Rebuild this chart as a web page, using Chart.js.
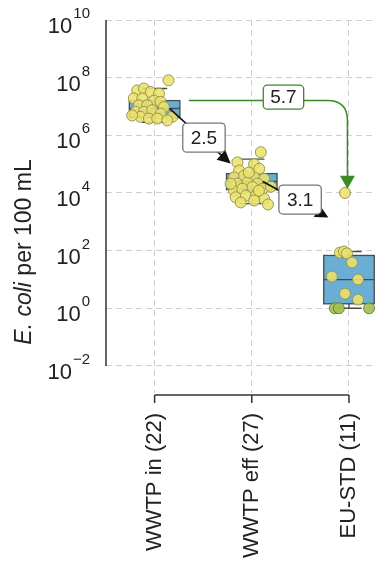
<!DOCTYPE html>
<html>
<head>
<meta charset="utf-8">
<script src="https://cdn.jsdelivr.net/npm/chart.js@4"></script>
<style>
  html, body { margin: 0; padding: 0; background: #fff; }
</style>
</head>
<body>
<canvas id="myChart" width="379" height="562"></canvas>
<script>
// categories and counts
const categories = ["WWTP in (22)", "WWTP eff (27)", "EU-STD (11)"];

// E. coli per 100 mL
const inflowValues = [8.1e7, 3.6e7, 4.2e7, 3.2e7, 2.8e7, 1.9e7, 1.9e7, 1.6e7, 1.45e7, 1.1e7, 1.1e7,
  9.5e6, 6.5e6, 6.5e6, 7.4e6, 5.6e6, 4.4e6, 3.8e6, 3.8e6, 4.4e6, 4.9e6, 3.3e6];
const inflowJitter = [0.143, -0.179, -0.110, -0.041, 0.045, -0.214, -0.127, -0.007, 0.062, -0.162, -0.076,
  0.096, -0.197, -0.110, -0.024, 0.062, -0.145, -0.059, 0.027, 0.183, -0.231, 0.130];

const effluentValues = [2.6e5, 1.15e5, 1.0e5, 6.9e4, 6.0e4, 3.5e4, 4.0e4, 3.5e4, 3.1e4, 2.1e4, 2.3e4,
  2.1e4, 1.2e4, 1.4e4, 1.6e4, 1.4e4, 1.65e4, 7.1e3, 8.1e3, 8.1e3, 6.3e3, 5.5e3, 4.0e3, 5.1e4, 2.1e4,
  4.7e3, 1.2e4];
const effluentJitter = [0.093, -0.148, 0.024, 0.076, -0.131, -0.183, -0.080, 0.024, 0.128, -0.148, -0.045,
  0.059, -0.183, -0.097, 0.007, 0.111, 0.197, -0.166, -0.062, 0.041, 0.128, 0.024, 0.166, -0.031, -0.218,
  -0.114, 0.073];

const standardValues = [85, 93, 80, 39, 12.6, 10, 3.2, 2.0, 1, 1, 1, 1.0e4];
const standardJitter = [-0.093, -0.052, -0.021, 0.031, -0.176, 0.093, -0.041, 0.093, -0.145, -0.104, 0.207, -0.041];

// box plot statistics per category
const whiskerLow = [2.8e6, 4.3e3, 1];
const quartile1 = [4.1e6, 1.3e4, 1.43];
const medians = [8.5e6, 2.5e4, 9.8];
const quartile3 = [1.6e7, 4.7e4, 68];
const whiskerHigh = [4.2e7, 1.5e5, 93];

// fold reductions
const foldLabels = ["2.5", "3.1", "5.7"];
const foldFrom = [{ x: 0.155, y: 8.4e6 }, { x: 1.114, y: 2.5e4 }, { x: 0.352, y: 1.6e7 }];
const foldTo = [{ x: 0.782, y: 1.05e5 }, { x: 1.788, y: 1.4e3 }, { x: 1.984, y: 1.4e4 }];
const foldText = [{ x: 0.508, y: 8.3e5 }, { x: 1.497, y: 5.9e3 }, { x: 1.326, y: 2.1e7 }];

// y tick exponents
const yTickExponents = [-2, 0, 2, 4, 6, 8, 10];

const FONT = "'Liberation Sans', Arial, sans-serif";
const boxWidth = 0.52;

const toPoints = (vals, jit, i) => vals.map((v, k) => ({ x: i + jit[k], y: v }));

const pointFill = (c) => (c.raw && c.raw.y <= 1 && c.datasetIndex === 2) ? "rgba(165,192,82,0.92)" : "rgba(236,226,108,0.88)";
const pointEdge = (c) => (c.raw && c.raw.y <= 1 && c.datasetIndex === 2) ? "rgba(95,135,45,0.95)" : "rgba(150,145,80,0.95)";

const arrowHead = (ctx, x0, y0, x1, y1, len, half, color) => {
  const a = Math.atan2(y1 - y0, x1 - x0);
  ctx.fillStyle = color;
  ctx.beginPath();
  ctx.moveTo(x1, y1);
  ctx.lineTo(x1 - len * Math.cos(a) + half * Math.sin(a), y1 - len * Math.sin(a) - half * Math.cos(a));
  ctx.lineTo(x1 - len * Math.cos(a) - half * Math.sin(a), y1 - len * Math.sin(a) + half * Math.cos(a));
  ctx.closePath();
  ctx.fill();
};

const labelBox = (ctx, cx, cy, text, edge, padX, h) => {
  ctx.font = "19px " + FONT;
  const w = ctx.measureText(text).width + 2 * padX;
  const x0 = cx - w / 2, y0 = cy - h / 2;
  ctx.beginPath();
  ctx.roundRect(x0, y0, w, h, 4);
  ctx.fillStyle = "#fff";
  ctx.fill();
  ctx.lineWidth = 1.3;
  ctx.strokeStyle = edge;
  ctx.stroke();
  ctx.fillStyle = "#222";
  ctx.textAlign = "center";
  ctx.textBaseline = "middle";
  ctx.fillText(text, cx, cy + 1);
};

const boxPlugin = {
  id: "boxes",
  beforeDatasetsDraw(chart) {
    const { ctx, scales: { x, y } } = chart;
    ctx.save();
    categories.forEach((c, i) => {
      const cx = x.getPixelForValue(i);
      const hw = x.getPixelForValue(i + boxWidth / 2) - cx;
      const y1 = y.getPixelForValue(quartile1[i]);
      const y3 = y.getPixelForValue(quartile3[i]);
      const ym = y.getPixelForValue(medians[i]);
      const ylo = y.getPixelForValue(whiskerLow[i]);
      const yhi = y.getPixelForValue(whiskerHigh[i]);
      ctx.strokeStyle = "#4a4a4a";
      ctx.lineWidth = 1.3;
      ctx.beginPath();
      ctx.moveTo(cx, y3); ctx.lineTo(cx, yhi);
      ctx.moveTo(cx, y1); ctx.lineTo(cx, ylo);
      ctx.moveTo(cx - hw / 2, yhi); ctx.lineTo(cx + hw / 2, yhi);
      ctx.moveTo(cx - hw / 2, ylo); ctx.lineTo(cx + hw / 2, ylo);
      ctx.stroke();
      ctx.fillStyle = "#6aaed6";
      ctx.fillRect(cx - hw, y3, 2 * hw, y1 - y3);
      ctx.strokeRect(cx - hw, y3, 2 * hw, y1 - y3);
      ctx.beginPath();
      ctx.moveTo(cx - hw, ym); ctx.lineTo(cx + hw, ym);
      ctx.stroke();
    });
    ctx.restore();
  },
  afterDatasetsDraw(chart) {
    const { ctx, scales: { x, y } } = chart;
    ctx.save();
    // straight black arrows
    for (let k = 0; k < 2; k++) {
      const x0 = x.getPixelForValue(foldFrom[k].x), y0 = y.getPixelForValue(foldFrom[k].y);
      const x1 = x.getPixelForValue(foldTo[k].x), y1 = y.getPixelForValue(foldTo[k].y);
      const d = Math.hypot(x1 - x0, y1 - y0);
      ctx.strokeStyle = "#111";
      ctx.lineWidth = 1.5;
      ctx.beginPath();
      ctx.moveTo(x0, y0);
      ctx.lineTo(x1 - 10 * (x1 - x0) / d, y1 - 10 * (y1 - y0) / d);
      ctx.stroke();
      arrowHead(ctx, x0, y0, x1, y1, 13, 6.5, "#111");
      labelBox(ctx, x.getPixelForValue(foldText[k].x), y.getPixelForValue(foldText[k].y), foldLabels[k], "#777", 8, 29);
    }
    // green elbow arrow
    const green = "#3b8a26";
    const gx0 = x.getPixelForValue(foldFrom[2].x), gy0 = y.getPixelForValue(foldFrom[2].y);
    const gx1 = x.getPixelForValue(foldTo[2].x), gy1 = y.getPixelForValue(foldTo[2].y);
    const r = 20;
    ctx.strokeStyle = green;
    ctx.lineWidth = 1.5;
    ctx.beginPath();
    ctx.moveTo(gx0, gy0);
    ctx.lineTo(gx1 - r, gy0);
    ctx.quadraticCurveTo(gx1, gy0, gx1, gy0 + r);
    ctx.lineTo(gx1, gy1 - 10);
    ctx.stroke();
    arrowHead(ctx, gx1, gy0, gx1, gy1, 13, 7.5, green);
    labelBox(ctx, x.getPixelForValue(foldText[2].x), y.getPixelForValue(foldText[2].y), foldLabels[2], green, 7, 24);
    ctx.restore();
  },
  afterDraw(chart) {
    const { ctx, chartArea, scales: { x, y } } = chart;
    ctx.save();
    // trimmed spines
    ctx.strokeStyle = "#333";
    ctx.lineWidth = 1.5;
    ctx.beginPath();
    ctx.moveTo(chartArea.left, y.getPixelForValue(10 ** yTickExponents[yTickExponents.length - 1]));
    ctx.lineTo(chartArea.left, y.getPixelForValue(10 ** yTickExponents[0]));
    const by = chartArea.bottom + 2;
    ctx.moveTo(x.getPixelForValue(0), by);
    ctx.lineTo(x.getPixelForValue(categories.length - 1), by);
    categories.forEach((c, i) => {
      ctx.moveTo(x.getPixelForValue(i), by);
      ctx.lineTo(x.getPixelForValue(i), by + 8);
    });
    ctx.stroke();
    // y tick labels as 10^n
    ctx.fillStyle = "#222";
    ctx.textAlign = "right";
    ctx.textBaseline = "alphabetic";
    yTickExponents.forEach(e => {
      const gy = y.getPixelForValue(10 ** e);
      const ex = (e < 0 ? "\u2212" : "") + Math.abs(e);
      ctx.font = "15px " + FONT;
      const ew = ctx.measureText(ex).width;
      ctx.fillText(ex, 90, gy - 2);
      ctx.font = "22px " + FONT;
      ctx.fillText("10", 89 - ew, gy + 13);
    });
    // y title with italic species name
    ctx.translate(31, 252);
    ctx.rotate(-Math.PI / 2);
    ctx.font = "italic 23px " + FONT;
    const a = "E. coli";
    const aw = ctx.measureText(a).width;
    ctx.font = "23px " + FONT;
    const b = " per 100 mL";
    const bw = ctx.measureText(b).width;
    ctx.textAlign = "left";
    ctx.font = "italic 23px " + FONT;
    ctx.fillText(a, -(aw + bw) / 2, 0);
    ctx.font = "23px " + FONT;
    ctx.fillText(b, -(aw + bw) / 2 + aw, 0);
    ctx.restore();
  }
};

const ctx = document.getElementById("myChart").getContext("2d");

new Chart(ctx, {
  type: "scatter",
  data: {
    datasets: [
      { label: categories[0], data: toPoints(inflowValues, inflowJitter, 0) },
      { label: categories[1], data: toPoints(effluentValues, effluentJitter, 1) },
      { label: categories[2], data: toPoints(standardValues, standardJitter, 2) },
    ].map(d => ({
      ...d,
      clip: false,
      pointRadius: 5.5,
      pointHoverRadius: 5.5,
      borderWidth: 1,
      backgroundColor: pointFill,
      borderColor: pointEdge,
    })),
  },
  plugins: [boxPlugin],
  options: {
    responsive: false,
    animation: false,
    devicePixelRatio: 1,
    layout: { padding: { top: 20, left: 0, right: 0, bottom: 0 } },
    plugins: { legend: { display: false }, tooltip: { enabled: false } },
    scales: {
      x: {
        type: "linear",
        min: -0.5,
        max: 2.242,
        afterBuildTicks: (s) => { s.ticks = categories.map((c, i) => ({ value: i })); },
        afterFit: (s) => { s.height = 169; s.paddingLeft = 0; s.paddingRight = 0; },
        ticks: {
          callback: (v) => categories[v],
          minRotation: 90,
          maxRotation: 90,
          padding: 20,
          color: "#222",
          font: { family: FONT, size: 22 },
        },
        grid: { color: "#cfcfcf", lineWidth: 1, drawTicks: false },
        border: { display: false, dash: [6, 4] },
      },
      y: {
        type: "logarithmic",
        min: 1.15e-3,
        max: 1e10,
        afterBuildTicks: (s) => { s.ticks = yTickExponents.map(e => ({ value: 10 ** e })); },
        afterFit: (s) => { s.width = 106; s.paddingTop = 0; s.paddingBottom = 0; },
        ticks: { display: false },
        grid: { color: "#cfcfcf", lineWidth: 1, drawTicks: false },
        border: { display: false, dash: [6, 4] },
      },
    },
  },
});
</script>
</body>
</html>
